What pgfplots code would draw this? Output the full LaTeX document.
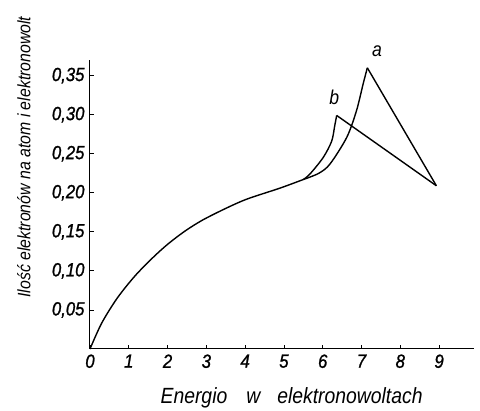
\documentclass[border=0pt]{standalone}
\usepackage{fontspec}
\setmainfont{Liberation Sans}
\newfontfamily\lblfont{Liberation Sans}[FakeStretch=0.88]
\newfontfamily\tickfont{Liberation Sans}[FakeStretch=0.88, FakeBold=1.2]
\usepackage{pgfplots}
\pgfplotsset{compat=1.18}

\begin{document}
\begin{tikzpicture}
\useasboundingbox (-90pt,-62pt) rectangle (390pt,349pt);
\begin{axis}[
  scale only axis, width=384pt, height=289pt,
  at={(0,0)}, anchor=origin,
  xmin=0, xmax=9.9, ymin=0, ymax=0.37,
  axis lines=left, axis line style={-, line width=1pt},
  xtick={0,1,...,9}, ytick={0.05,0.10,...,0.35},
  tick align=inside, major tick length=4pt,
  tick style={line width=0.8pt, black},
  /pgf/number format/assume math mode=true,
  /pgf/number format/use comma,
  yticklabel style={/pgf/number format/fixed, /pgf/number format/fixed zerofill, /pgf/number format/precision=2},
  ticklabel style={font=\tickfont\fontsize{19}{21}\selectfont\itshape},
  xticklabel style={yshift=-2pt},
  yticklabel style={xshift=-2pt},
  xlabel={Energio\hspace{19pt}w\hspace{17pt}elektronowoltach},
  ylabel={Ilość elektronów na atom i elektronowolt},
  xlabel style={font=\lblfont\fontsize{22}{24}\selectfont\itshape,
    at={(axis description cs:0.525,-0.170)}, anchor=center},
  ylabel style={font=\lblfont\fontsize{18}{20}\selectfont\itshape,
    at={(axis description cs:-0.172,0.664)}, anchor=center},
  clip=false,
]
% common part
\addplot[black, line width=1.4pt, smooth, tension=0.5] coordinates {
  (0,0) (0.3,0.033) (0.7,0.065) (1.15,0.093) (1.6,0.116) (2.0,0.134)
  (2.45,0.151) (2.9,0.165) (3.5,0.180) (4.05,0.192) (4.9,0.206) (5.5,0.217)
};
% branch a
\addplot[black, line width=1.4pt, smooth, tension=0.5] coordinates {
  (5.5,0.217) (5.9,0.225) (6.19,0.237) (6.62,0.271) (6.87,0.305) (7.04,0.339) (7.15,0.360)
};
\addplot[black, line width=1.4pt] coordinates {(7.15,0.360) (8.93,0.209)};
% branch b
\addplot[black, line width=1.4pt, smooth, tension=0.5] coordinates {
  (5.5,0.217) (5.67,0.224) (6.01,0.245) (6.23,0.266) (6.31,0.286) (6.36,0.299)
};
\addplot[black, line width=1.4pt] coordinates {(6.36,0.299) (8.93,0.209)};
\node[font=\lblfont\fontsize{20}{22}\selectfont\itshape] at (axis cs:7.4,0.381) {a};
\node[font=\lblfont\fontsize{20}{22}\selectfont\itshape] at (axis cs:6.3,0.322) {b};
\end{axis}
\end{tikzpicture}
\end{document}
